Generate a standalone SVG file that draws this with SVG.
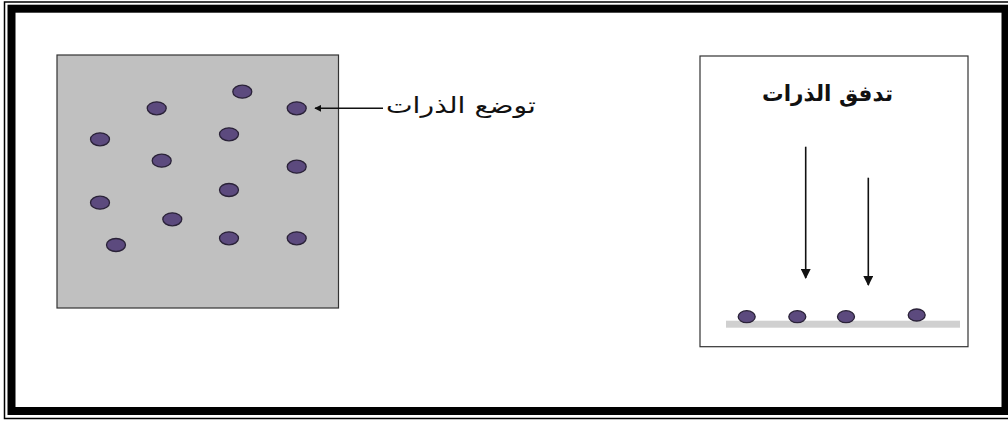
<svg xmlns="http://www.w3.org/2000/svg" width="1008" height="421" viewBox="0 0 1008 421">
  <defs>
    <style>
      .atom { fill: #5c4a7e; stroke: #2a2238; stroke-width: 1.3; }
      .label { font-family: "DejaVu Sans", "Liberation Sans", sans-serif; fill: #111; }
      .conn { stroke: #111; stroke-width: 1.6; fill: none; }
    </style>
    <marker id="head" viewBox="0 0 10 10" refX="9" refY="5" markerWidth="7" markerHeight="7" markerUnits="userSpaceOnUse" orient="auto">
      <path d="M0,0 L10,5 L0,10 z" fill="#111"/>
    </marker>
    <marker id="headBig" viewBox="0 0 10 10" refX="9" refY="5" markerWidth="10" markerHeight="10" markerUnits="userSpaceOnUse" orient="auto">
      <path d="M0,0 L10,5 L0,10 z" fill="#111"/>
    </marker>
  </defs>

  <!-- page frame: thin outer line plus heavy inner line -->
  <rect x="0" y="0" width="1008" height="421" fill="#fff"/>
  <rect x="4.5" y="2" width="1010" height="416.5" fill="none" stroke="#000" stroke-width="1.5"/>
  <rect x="11.5" y="8.7" width="994" height="402.3" fill="none" stroke="#000" stroke-width="8"/>

  <!-- deposition panel -->
  <g id="deposition">
    <rect x="57" y="55" width="281.5" height="253" fill="#c0c0c0" stroke="#333" stroke-width="1.2"/>
    <ellipse class="atom" cx="242.3" cy="91.7" rx="9.5" ry="6.5"/>
    <ellipse class="atom" cx="156.7" cy="108.3" rx="9.5" ry="6.5"/>
    <ellipse class="atom" cx="296.7" cy="108.3" rx="9.5" ry="6.5"/>
    <ellipse class="atom" cx="100" cy="139.3" rx="9.5" ry="6.5"/>
    <ellipse class="atom" cx="229" cy="134.3" rx="9.5" ry="6.5"/>
    <ellipse class="atom" cx="161.7" cy="160.7" rx="9.5" ry="6.5"/>
    <ellipse class="atom" cx="296.7" cy="166.7" rx="9.5" ry="6.5"/>
    <ellipse class="atom" cx="229" cy="190" rx="9.5" ry="6.5"/>
    <ellipse class="atom" cx="100" cy="202.7" rx="9.5" ry="6.5"/>
    <ellipse class="atom" cx="172.3" cy="219.3" rx="9.5" ry="6.5"/>
    <ellipse class="atom" cx="116" cy="245" rx="9.5" ry="6.5"/>
    <ellipse class="atom" cx="229" cy="238.3" rx="9.5" ry="6.5"/>
    <ellipse class="atom" cx="296.7" cy="238.3" rx="9.5" ry="6.5"/>
  </g>

  <g id="deposition-label">
    <text class="label" x="536" y="113" font-size="22" text-anchor="end" textLength="150" lengthAdjust="spacingAndGlyphs">توضع الذرات</text>
  </g>

  <!-- flux panel -->
  <g id="flux">
    <rect x="700" y="56" width="268" height="290.7" fill="#fff" stroke="#333" stroke-width="1.2"/>
    <text class="label" x="893" y="101" font-size="22" font-weight="bold" text-anchor="end" textLength="131" lengthAdjust="spacingAndGlyphs">تدفق الذرات</text>
    <rect x="726" y="320.7" width="234" height="7" fill="#d0d0d0"/>
    <ellipse class="atom" cx="746.7" cy="316.7" rx="8.5" ry="6"/>
    <ellipse class="atom" cx="797.3" cy="316.7" rx="8.5" ry="6"/>
    <ellipse class="atom" cx="846" cy="316.7" rx="8.5" ry="6"/>
    <ellipse class="atom" cx="916.7" cy="315" rx="8.5" ry="6"/>
  </g>

  <!-- connectors -->
  <g id="connectors">
    <line class="conn" x1="383" y1="108.3" x2="315" y2="108.3" marker-end="url(#head)"/>
    <line class="conn" x1="805.7" y1="146.7" x2="805.7" y2="278" marker-end="url(#headBig)"/>
    <line class="conn" x1="868.3" y1="177.7" x2="868.3" y2="285" marker-end="url(#headBig)"/>
  </g>
</svg>
